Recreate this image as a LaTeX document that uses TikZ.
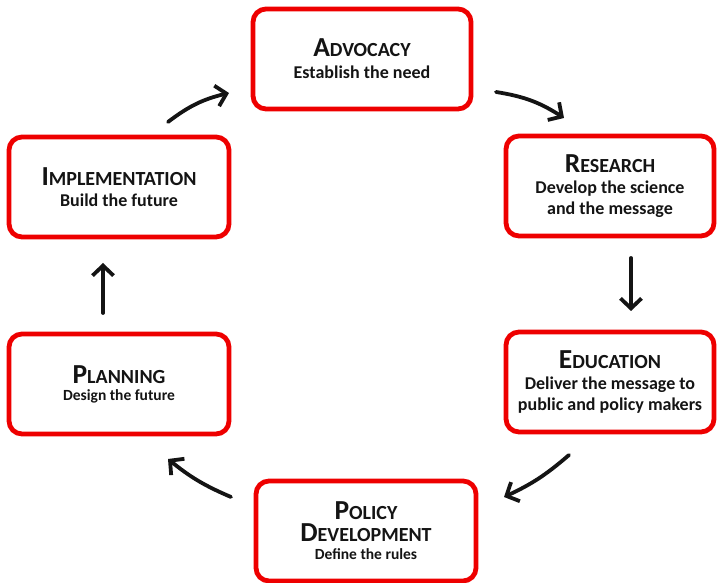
\documentclass[tikz,border=0pt]{standalone}
\usepackage{fontspec}
\setmainfont{Carlito}
\usetikzlibrary{arrows.meta}
\definecolor{boxred}{RGB}{238,0,0}
\definecolor{ink}{RGB}{20,20,20}
\newcommand\ttlx[2]{{\fontsize{27.5}{24}\selectfont #1\fontsize{20}{24}\selectfont #2}}
\tikzset{
  stage/.style={draw=boxred, line width=4.8pt, rounded corners=13pt, fill=white,
    minimum width=218pt, minimum height=100pt, align=center, text=ink,
    font=\fontsize{18}{21}\selectfont\bfseries, inner sep=2pt},
  flow/.style={draw=ink, line width=3.8pt, line cap=round,
    -{Straight Barb[length=10pt,width=21pt,line width=3.8pt]}}
}
\begin{document}
\begin{tikzpicture}[x=1pt,y=1pt]
\useasboundingbox (0,0) rectangle (717,583);
\node[stage] (adv) at (362,524) {\ttlx{A}{DVOCACY}\\[1pt]Establish the need};
\node[stage, minimum width=208pt] (res) at (610,397) {\ttlx{R}{ESEARCH}\\Develop the science\\and the message};
\node[stage, minimum width=208pt] (edu) at (610,201) {\ttlx{E}{DUCATION}\\Deliver the message to\\public and policy makers};
\node[stage, minimum width=220pt] (pol) at (366,52) {\ttlx{P}{OLICY}\\[1pt]\ttlx{D}{EVELOPMENT}\\[-3pt]{\fontsize{15.5}{18}\selectfont Define the rules}};
\node[stage, minimum width=220pt] (imp) at (119,396) {\ttlx{I}{MPLEMENTATION}\\Build the future};
\node[stage, minimum width=220pt] (pla) at (119,199) {\ttlx{P}{LANNING}\\[-4pt]{\fontsize{15.5}{18}\selectfont Design the future}};
\coordinate (a1) at (168,461); \coordinate (b1) at (229,490);
\coordinate (a2) at (496,491); \coordinate (b2) at (564,465);
\coordinate (a3) at (631,325); \coordinate (b3) at (631,272);
\coordinate (a4) at (569,128); \coordinate (b4) at (504,86);
\coordinate (a5) at (231,86); \coordinate (b5) at (168,124);
\coordinate (a6) at (103,270); \coordinate (b6) at (103,320);
\draw[flow] (a1) to[bend left=12] (b1);
\draw[flow] (a2) to[bend left=12] (b2);
\draw[flow] (a3) to (b3);
\draw[flow] (a4) to[bend left=8] (b4);
\draw[flow] (a5) to[bend left=8] (b5);
\draw[flow] (a6) to (b6);
\end{tikzpicture}
\end{document}
